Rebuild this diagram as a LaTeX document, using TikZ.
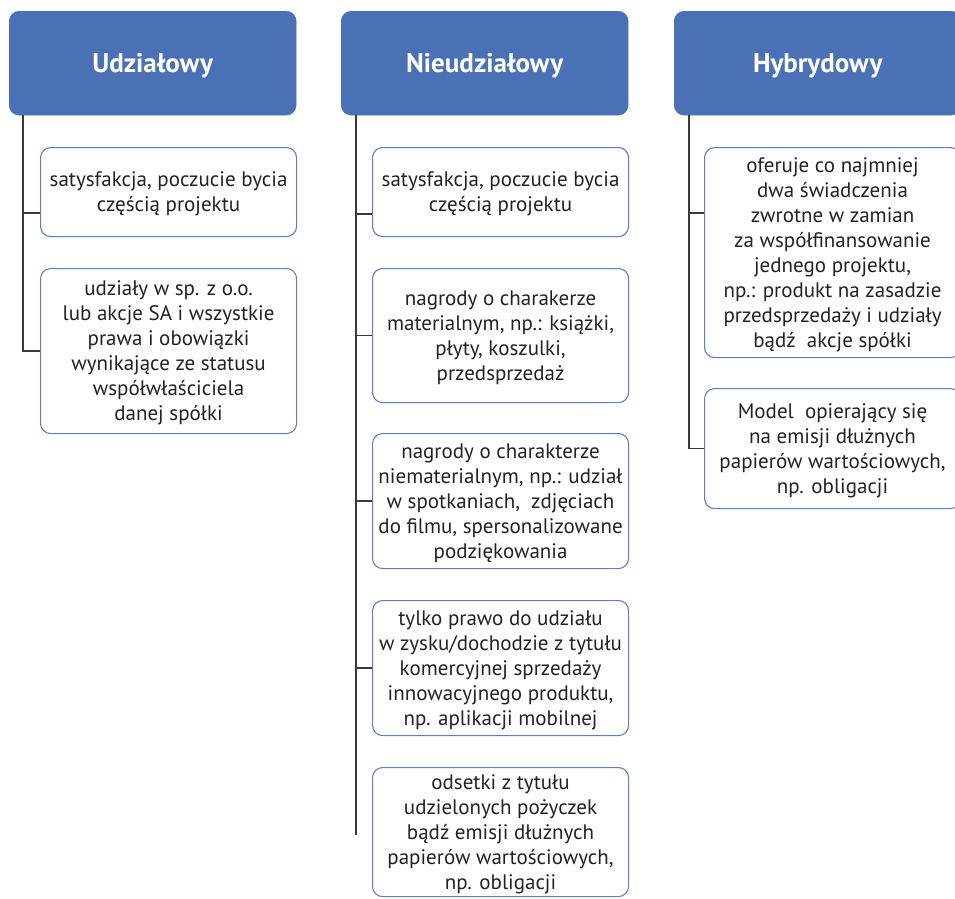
\documentclass[tikz,border=0pt]{standalone}
\usepackage{fontspec}
\setmainfont{PT Sans}
\usepackage{xcolor}
\usepackage{tikz}
\usetikzlibrary{positioning,calc}

\definecolor{hdblue}{HTML}{4A71B6}
\definecolor{bxblue}{HTML}{5A80C4}
\definecolor{lnk}{HTML}{3A3A3A}
\definecolor{txt}{HTML}{222222}

\tikzset{
  head/.style={draw=hdblue, fill=hdblue, rounded corners=10pt, anchor=north west,
    minimum width=287pt, minimum height=104pt, text=white, text depth=0pt,
    font=\bfseries\fontsize{27}{30}\selectfont},
  item/.style={draw=bxblue, line width=1.1pt, rounded corners=10pt, anchor=north west,
    minimum width=256pt, inner sep=0pt, align=center, text=txt, text depth=0pt,
    font=\fontsize{21}{25}\selectfont},
  link/.style={draw=lnk, line width=1.4pt}
}

\begin{document}
\begin{tikzpicture}[x=1pt, y=-1pt]
    \useasboundingbox (0,0) rectangle (955,898);

    % headers
    \node [head] (H1) at (9,11) {Udziałowy};
    \node [head] (H2) at (341,11) {Nieudziałowy};
    \node [head] (H3) at (674,11) {Hybrydowy};

    % column 1
    \node [item, minimum height=89pt] (U1) at (40,147) {satysfakcja, poczucie bycia\\częścią projektu};
    \node [item, minimum height=165pt] (U2) at (40,268) {udziały w sp. z o.o.\\lub akcje SA i wszystkie\\prawa i obowiązki\\wynikające ze statusu\\współwłaściciela\\danej spółki};

    % column 2
    \node [item, minimum height=89pt] (N1) at (372,147) {satysfakcja, poczucie bycia\\częścią projektu};
    \node [item, minimum height=134pt] (N2) at (372,268) {nagrody o charakerze\\materialnym, np.: książki,\\płyty, koszulki,\\przedsprzedaż};
    \node [item, minimum height=135pt] (N3) at (372,433) {nagrody o charakterze\\niematerialnym, np.: udział\\w spotkaniach,~ zdjęciach\\do filmu, spersonalizowane\\podziękowania};
    \node [item, minimum height=135pt] (N4) at (372,600) {tylko prawo do udziału\\w zysku/dochodzie z tytułu\\komercyjnej sprzedaży\\innowacyjnego produktu,\\np. aplikacji mobilnej};
    \node [item, minimum height=129pt] (N5) at (372,767) {odsetki z tytułu\\udzielonych pożyczek\\bądź emisji dłużnych\\papierów wartościowych,\\np. obligacji};

    % column 3
    \node [item, minimum height=210pt] (Y1) at (704,147) {oferuje co najmniej\\dwa świadczenia\\zwrotne w zamian\\za współfinansowanie\\jednego projektu,\\np.: produkt na zasadzie\\przedsprzedaży i udziały\\bądź~ akcje spółki};
    \node [item, minimum height=120pt] (Y2) at (704,388) {Model~ opierający się\\na emisji dłużnych\\papierów wartościowych,\\np. obligacji};

    % connectors
    \coordinate (T1) at ($(H1.south west)+(14,0)$);
    \coordinate (T2) at ($(H2.south west)+(15,0)$);
    \coordinate (T3) at ($(H3.south west)+(15,0)$);
    \coordinate (B1) at ($(U1.north west)+(0,66)$);
    \coordinate (B2) at ($(N1.north west)+(0,67)$);
    \coordinate (B3) at ($(Y1.north west)+(0,66)$);
    \coordinate (E2) at ($(N5.north west)+(-16,68)$);

    \draw [link] (T1) |- (U2.west);
    \draw [link] (T1 |- B1) -- (B1);

    \draw [link] (T2) -- (E2);
    \draw [link] (T2 |- B2) -- (B2);
    \draw [link] (T2 |- N2.west) -- (N2.west);
    \draw [link] (T2 |- N3.west) -- (N3.west);
    \draw [link] (T2 |- N4.west) -- (N4.west);

    \draw [link] (T3) |- (Y2.west);
    \draw [link] (T3 |- B3) -- (B3);
\end{tikzpicture}
\end{document}
